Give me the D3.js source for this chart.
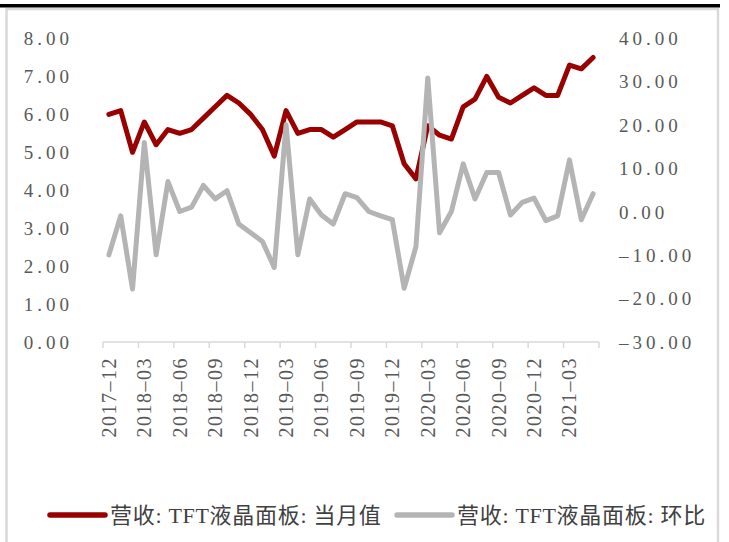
<!DOCTYPE html>
<html>
<head>
<meta charset="utf-8">
<script src="https://cdn.jsdelivr.net/npm/d3@7"></script>
<style>
  body { margin: 0; background: #fff; }
  svg { display: block; }
</style>
</head>
<body>
<svg id="chart"></svg>
<script>
// months from 2017-12 to 2021-05
const months = ["2017-12","2018-01","2018-02","2018-03","2018-04","2018-05","2018-06","2018-07","2018-08","2018-09","2018-10","2018-11",
  "2018-12","2019-01","2019-02","2019-03","2019-04","2019-05","2019-06","2019-07","2019-08","2019-09","2019-10","2019-11",
  "2019-12","2020-01","2020-02","2020-03","2020-04","2020-05","2020-06","2020-07","2020-08","2020-09","2020-10","2020-11",
  "2020-12","2021-01","2021-02","2021-03","2021-04","2021-05"];

// 营收: TFT液晶面板: 当月值 (left axis)
const monthValue = [6.0,6.1,5.0,5.8,5.2,5.6,5.5,5.6,5.9,6.2,6.5,6.3,
  6.0,5.6,4.9,6.1,5.5,5.6,5.6,5.4,5.6,5.8,5.8,5.8,
  5.7,4.7,4.3,5.7,5.45,5.35,6.2,6.4,7.0,6.45,6.3,6.5,
  6.7,6.5,6.5,7.3,7.2,7.5];

// 营收: TFT液晶面板: 环比 (right axis)
const momChange = [-9.9,-0.9,-17.8,16.0,-9.9,7.0,0.1,1.1,6.1,3.0,4.9,-2.8,
  -4.8,-6.8,-12.8,20.1,-9.9,3.0,-0.7,-2.8,4.2,3.3,0.1,-0.9,
  -1.8,-17.6,-8.0,30.9,-4.8,0.1,11.1,3.0,9.1,9.1,-0.7,2.2,
  3.2,-2.0,-0.9,12.0,-1.8,4.2];

const leftTicks = [0,1,2,3,4,5,6,7,8];
const rightTicks = [-30,-20,-10,0,10,20,30,40];
const seriesNames = ["营收: TFT液晶面板: 当月值", "营收: TFT液晶面板: 环比"];

const width = 729, height = 542;
const svg = d3.select("#chart").attr("width", width).attr("height", height);

// frame and top black rule
svg.append("rect")
  .attr("x", 6.5).attr("y", 9).attr("width", 711.5).attr("height", 545)
  .attr("fill", "none").attr("stroke", "#d9d9d9").attr("stroke-width", 2.5);
svg.append("rect")
  .attr("x", 0).attr("y", 4).attr("width", 720).attr("height", 3.5)
  .attr("fill", "#000");

const plot = { left: 103, right: 599, top: 38.5, bottom: 342 };

const x = d3.scaleBand().domain(months).range([plot.left, plot.right]);
const yL = d3.scaleLinear().domain([0, 8]).range([plot.bottom, plot.top]);
const yR = d3.scaleLinear().domain([-30, 40]).range([plot.bottom, plot.top]);

const tickFont = "'Liberation Serif', 'Noto Sans CJK SC', serif";
const tickColor = "#595959";

// left axis labels
const leftAxis = svg.append("g")
  .attr("transform", "translate(73,0)")
  .call(d3.axisLeft(yL).tickValues(leftTicks).tickSize(0).tickPadding(0).tickFormat(d3.format(".2f")));
leftAxis.select(".domain").remove();
leftAxis.selectAll("text")
  .attr("fill", tickColor)
  .style("font-family", tickFont)
  .style("font-size", "19px")
  .style("letter-spacing", "4px");

// right axis labels
const rightAxis = svg.append("g")
  .attr("transform", "translate(619,0)")
  .call(d3.axisRight(yR).tickValues(rightTicks).tickSize(0).tickPadding(0)
    .tickFormat(d => d3.format(".2f")(d).replace("−", "–")));
rightAxis.select(".domain").remove();
rightAxis.selectAll("text")
  .attr("fill", tickColor)
  .style("font-family", tickFont)
  .style("font-size", "19px")
  .style("letter-spacing", "4px");

// x axis: line with ticks at every third category boundary
const xAxisG = svg.append("g");
xAxisG.append("line")
  .attr("x1", plot.left).attr("x2", plot.right)
  .attr("y1", plot.bottom).attr("y2", plot.bottom)
  .attr("stroke", "#d9d9d9").attr("stroke-width", 1.5);
const tickMonths = months.filter((m, i) => i % 3 === 0);
xAxisG.selectAll("line.tick")
  .data(tickMonths.concat(["end"]))
  .enter().append("line")
  .attr("class", "tick")
  .attr("x1", d => d === "end" ? plot.right : x(d))
  .attr("x2", d => d === "end" ? plot.right : x(d))
  .attr("y1", plot.bottom).attr("y2", plot.bottom + 6)
  .attr("stroke", "#d9d9d9").attr("stroke-width", 1.5);

xAxisG.selectAll("text")
  .data(tickMonths)
  .enter().append("text")
  .attr("transform", d => "translate(" + (x(d) + x.bandwidth() / 2 + 7) + "," + (plot.bottom + 15) + ") rotate(-90)")
  .attr("text-anchor", "end")
  .attr("fill", tickColor)
  .style("font-family", tickFont)
  .style("font-size", "20px")
  .style("letter-spacing", "1.5px")
  .text(d => d.replace("-", "–"));

// lines
const redLine = d3.line()
  .x((d, i) => x(months[i]) + x.bandwidth() / 2)
  .y(d => yL(d));
const grayLine = d3.line()
  .x((d, i) => x(months[i]) + x.bandwidth() / 2)
  .y(d => yR(d));

svg.append("path")
  .datum(monthValue)
  .attr("d", redLine)
  .attr("fill", "none")
  .attr("stroke", "#990000")
  .attr("stroke-width", 5)
  .attr("stroke-linejoin", "round")
  .attr("stroke-linecap", "round");

svg.append("path")
  .datum(momChange)
  .attr("d", grayLine)
  .attr("fill", "none")
  .attr("stroke", "#b4b4b4")
  .attr("stroke-width", 5)
  .attr("stroke-linejoin", "round")
  .attr("stroke-linecap", "round");

// legend
const legendColors = ["#990000", "#b4b4b4"];
const legendX = [50, 397];
const legend = svg.append("g");
seriesNames.forEach((name, i) => {
  legend.append("line")
    .attr("x1", legendX[i]).attr("x2", legendX[i] + 55)
    .attr("y1", 515).attr("y2", 515)
    .attr("stroke", legendColors[i])
    .attr("stroke-width", 5.5)
    .attr("stroke-linecap", "round");
  legend.append("text")
    .attr("x", legendX[i] + 60)
    .attr("y", 523)
    .attr("fill", "#404040")
    .style("font-family", tickFont)
    .style("font-size", "22px")
    .style("letter-spacing", "0.7px")
    .text(name);
});
</script>
</body>
</html>
